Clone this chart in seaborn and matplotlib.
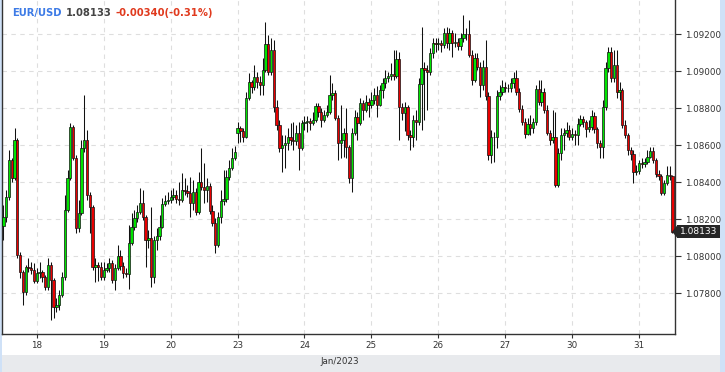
import numpy as np
import pandas as pd
import matplotlib
matplotlib.use("Agg")
import matplotlib.pyplot as plt
import seaborn as sns
from matplotlib.patches import Rectangle, Polygon

# ---------------- data (EUR/USD hourly candles, 17-31 Jan 2023) ----------------
day_labels = ["18", "19", "20", "23", "24", "25", "26", "27", "30", "31"]
day_start_index = [12, 36, 60, 84, 108, 132, 156, 180, 204, 228]
axis_caption = "Jan/2023"
symbol = "EUR/USD"
last_price = 1.08133
change_text = "-0.00340(-0.31%)"
price_ticks = [1.078, 1.080, 1.082, 1.084, 1.086, 1.088, 1.090, 1.092]

first_open = 1.08164
gap_opens = {84: 1.08666}

closes = [
    1.08212, 1.08320, 1.08520, 1.08423, 1.08628, 1.08007, 1.07915, 1.07807, 1.07942, 1.07937,
    1.07926, 1.07867, 1.07910, 1.07915, 1.07888, 1.07834, 1.07953, 1.07872, 1.07726, 1.07737,
    1.07791, 1.07888, 1.08250, 1.08423, 1.08698, 1.08531, 1.08153, 1.08234, 1.08585, 1.08628,
    1.08331, 1.08266, 1.07942, 1.07953, 1.07942, 1.07888, 1.07926, 1.07937, 1.07964, 1.07872,
    1.07937, 1.08002, 1.07948, 1.07910, 1.07904, 1.08072, 1.08158, 1.08207, 1.08239, 1.08288,
    1.08212, 1.08088, 1.08099, 1.07888, 1.08088, 1.08110, 1.08158, 1.08282, 1.08298, 1.08304,
    1.08320, 1.08331, 1.08309, 1.08304, 1.08358, 1.08353, 1.08342, 1.08288, 1.08347, 1.08239,
    1.08401, 1.08374, 1.08358, 1.08380, 1.08245, 1.08180, 1.08061, 1.08212, 1.08298, 1.08309,
    1.08428, 1.08477, 1.08531, 1.08563, 1.08693, 1.08677, 1.08644, 1.08855, 1.08941, 1.08914,
    1.08968, 1.08941, 1.08925, 1.09006, 1.09146, 1.08995, 1.09114, 1.08806, 1.08709, 1.08585,
    1.08601, 1.08612, 1.08644, 1.08628, 1.08623, 1.08666, 1.08585, 1.08720, 1.08725, 1.08731,
    1.08720, 1.08736, 1.08812, 1.08779, 1.08736, 1.08763, 1.08779, 1.08871, 1.08882, 1.08747,
    1.08612, 1.08628, 1.08666, 1.08590, 1.08423, 1.08666, 1.08752, 1.08720, 1.08828, 1.08790,
    1.08833, 1.08817, 1.08844, 1.08871, 1.08817, 1.08898, 1.08936, 1.08963, 1.08974, 1.08984,
    1.08974, 1.09065, 1.08806, 1.08774, 1.08806, 1.08655, 1.08644, 1.08736, 1.08725, 1.08930,
    1.09017, 1.09006, 1.08995, 1.09098, 1.09152, 1.09146, 1.09152, 1.09141, 1.09206, 1.09152,
    1.09206, 1.09152, 1.09157, 1.09136, 1.09179, 1.09200, 1.09198, 1.09087, 1.08952, 1.09071,
    1.09022, 1.08925, 1.09022, 1.08866, 1.08547, 1.08644, 1.08642, 1.08866, 1.08887, 1.08914,
    1.08909, 1.08907, 1.08936, 1.08963, 1.08887, 1.08795, 1.08725, 1.08660, 1.08714, 1.08693,
    1.08725, 1.08903, 1.08833, 1.08887, 1.08790, 1.08666, 1.08628, 1.08644, 1.08385, 1.08558,
    1.08655, 1.08666, 1.08682, 1.08644, 1.08660, 1.08655, 1.08714, 1.08741, 1.08725, 1.08688,
    1.08698, 1.08758, 1.08688, 1.08612, 1.08590, 1.08806, 1.09017, 1.09103, 1.08963, 1.09033,
    1.08887, 1.08898, 1.08709, 1.08655, 1.08574, 1.08552, 1.08455, 1.08461, 1.08504, 1.08498,
    1.08509, 1.08536, 1.08568, 1.08520, 1.08444, 1.08434, 1.08342, 1.08396, 1.08439, 1.08434,
    1.08133,
]

highs = [
    1.08277, 1.08358, 1.08574, 1.08531, 1.08693, 1.08639, 1.08023, 1.07926, 1.07953, 1.07991,
    1.07969, 1.07964, 1.07937, 1.07969, 1.07926, 1.07899, 1.07991, 1.07969, 1.07883, 1.07775,
    1.07818, 1.07915, 1.08331, 1.08466, 1.08720, 1.08709, 1.08547, 1.08304, 1.08628, 1.08871,
    1.08682, 1.08347, 1.08277, 1.07991, 1.07969, 1.07969, 1.07969, 1.07964, 1.07991, 1.07980,
    1.07958, 1.08061, 1.08034, 1.07969, 1.07937, 1.08169, 1.08234, 1.08250, 1.08277, 1.08369,
    1.08358, 1.08223, 1.08142, 1.08266, 1.08110, 1.08153, 1.08223, 1.08315, 1.08331, 1.08347,
    1.08358, 1.08369, 1.08358, 1.08401, 1.08450, 1.08422, 1.08385, 1.08428, 1.08412, 1.08369,
    1.08455, 1.08585, 1.08504, 1.08422, 1.08396, 1.08277, 1.08207, 1.08239, 1.08358, 1.08466,
    1.08466, 1.08520, 1.08585, 1.08596, 1.08725, 1.08704, 1.08693, 1.08887, 1.08990, 1.08952,
    1.09033, 1.08995, 1.08974, 1.09071, 1.09265, 1.09195, 1.09179, 1.09168, 1.08844, 1.08736,
    1.08655, 1.08655, 1.08693, 1.08720, 1.08725, 1.08709, 1.08725, 1.08736, 1.08758, 1.08758,
    1.08747, 1.08779, 1.08828, 1.08828, 1.08801, 1.08790, 1.08817, 1.08979, 1.08936, 1.08898,
    1.08763, 1.08817, 1.08693, 1.08801, 1.08601, 1.08693, 1.08790, 1.08779, 1.08855, 1.08844,
    1.08871, 1.08855, 1.08887, 1.08909, 1.08920, 1.08925, 1.08963, 1.09006, 1.08995, 1.09044,
    1.09114, 1.09114, 1.09103, 1.08828, 1.08833, 1.08817, 1.08682, 1.08763, 1.08790, 1.08963,
    1.09238, 1.09049, 1.09033, 1.09125, 1.09179, 1.09179, 1.09179, 1.09168, 1.09233, 1.09238,
    1.09233, 1.09222, 1.09206, 1.09179, 1.09206, 1.09303, 1.09233, 1.09276, 1.09114, 1.09098,
    1.09098, 1.09049, 1.09060, 1.09168, 1.08887, 1.08682, 1.08671, 1.08898, 1.08925, 1.08952,
    1.08941, 1.08930, 1.08963, 1.08995, 1.09006, 1.08909, 1.08817, 1.08747, 1.08747, 1.08763,
    1.08747, 1.08925, 1.08952, 1.08952, 1.08909, 1.08817, 1.08682, 1.08790, 1.08779, 1.08585,
    1.08693, 1.08693, 1.08725, 1.08709, 1.08693, 1.08682, 1.08747, 1.08763, 1.08758, 1.08736,
    1.08736, 1.08790, 1.08779, 1.08698, 1.08628, 1.08844, 1.09049, 1.09130, 1.09130, 1.09114,
    1.09114, 1.08941, 1.08909, 1.08736, 1.08666, 1.08590, 1.08574, 1.08493, 1.08520, 1.08531,
    1.08531, 1.08574, 1.08590, 1.08590, 1.08531, 1.08466, 1.08444, 1.08412, 1.08488, 1.08488,
    1.08439,
]

lows = [
    1.08088, 1.08185, 1.08304, 1.08401, 1.08412, 1.07991, 1.07883, 1.07737, 1.07791, 1.07915,
    1.07904, 1.07856, 1.07856, 1.07883, 1.07861, 1.07818, 1.07818, 1.07656, 1.07667, 1.07699,
    1.07710, 1.07780, 1.07872, 1.08239, 1.08412, 1.08520, 1.08126, 1.08131, 1.08223, 1.08563,
    1.08304, 1.08126, 1.07926, 1.07861, 1.07867, 1.07872, 1.07872, 1.07915, 1.07915, 1.07856,
    1.07818, 1.07926, 1.07926, 1.07883, 1.07888, 1.07823, 1.08061, 1.08142, 1.08185, 1.08228,
    1.08196, 1.07942, 1.08045, 1.07834, 1.07856, 1.08034, 1.08088, 1.08153, 1.08271, 1.08282,
    1.08288, 1.08304, 1.08288, 1.08277, 1.08293, 1.08331, 1.08320, 1.08212, 1.08250, 1.08223,
    1.08228, 1.08358, 1.08288, 1.08293, 1.08228, 1.08164, 1.08018, 1.08050, 1.08180, 1.08277,
    1.08293, 1.08412, 1.08466, 1.08520, 1.08612, 1.08617, 1.08617, 1.08639, 1.08844, 1.08882,
    1.08898, 1.08909, 1.08871, 1.08871, 1.08995, 1.08979, 1.08979, 1.08779, 1.08682, 1.08563,
    1.08455, 1.08477, 1.08574, 1.08601, 1.08574, 1.08601, 1.08466, 1.08574, 1.08682, 1.08671,
    1.08682, 1.08709, 1.08725, 1.08752, 1.08698, 1.08725, 1.08752, 1.08768, 1.08844, 1.08736,
    1.08520, 1.08531, 1.08536, 1.08531, 1.08396, 1.08347, 1.08655, 1.08628, 1.08709, 1.08736,
    1.08779, 1.08752, 1.08801, 1.08822, 1.08752, 1.08812, 1.08855, 1.08909, 1.08941, 1.08952,
    1.08952, 1.08963, 1.08628, 1.08736, 1.08677, 1.08628, 1.08574, 1.08590, 1.08628, 1.08709,
    1.08682, 1.08736, 1.08790, 1.08979, 1.09071, 1.09103, 1.09114, 1.09103, 1.09125, 1.09125,
    1.09114, 1.09076, 1.09130, 1.09114, 1.09114, 1.09157, 1.09168, 1.09076, 1.08925, 1.08941,
    1.09006, 1.08860, 1.08898, 1.08844, 1.08520, 1.08504, 1.08509, 1.08585, 1.08844, 1.08871,
    1.08887, 1.08887, 1.08887, 1.08909, 1.08871, 1.08779, 1.08709, 1.08639, 1.08655, 1.08655,
    1.08666, 1.08709, 1.08817, 1.08812, 1.08774, 1.08655, 1.08601, 1.08612, 1.08374, 1.08374,
    1.08520, 1.08574, 1.08644, 1.08628, 1.08628, 1.08601, 1.08601, 1.08704, 1.08698, 1.08644,
    1.08671, 1.08682, 1.08666, 1.08585, 1.08531, 1.08531, 1.08790, 1.08995, 1.08941, 1.08941,
    1.08855, 1.08844, 1.08693, 1.08639, 1.08547, 1.08520, 1.08396, 1.08439, 1.08444, 1.08477,
    1.08482, 1.08498, 1.08531, 1.08504, 1.08428, 1.08412, 1.08331, 1.08331, 1.08385, 1.08412,
    1.08126,
]

# ---------------- build the OHLC table ----------------
n = len(closes)
opens = [first_open] + closes[:-1]
for k, v in gap_opens.items():
    opens[k] = v
df = pd.DataFrame({"i": np.arange(n), "open": opens, "close": closes,
                   "high": highs, "low": lows})
df["high"] = df[["high", "open", "close"]].max(axis=1)
df["low"] = df[["low", "open", "close"]].min(axis=1)
df["up"] = df["close"] >= df["open"]
df["bottom"] = df[["open", "close"]].min(axis=1)
df["height"] = (df["close"] - df["open"]).abs().clip(lower=0.000015)

# ---------------- styling ----------------
sns.set_theme(style="white")
plt.rcParams["font.family"] = ["DejaVu Sans"]

W, H = 725, 372
fig = plt.figure(figsize=(W / 100, H / 100), dpi=100)
fig.patch.set_facecolor("white")

# frame decorations (bottom caption strip, side strips)
fig.add_artist(Rectangle((0, 0), 1, 17 / H, transform=fig.transFigure,
                         facecolor="#e8eaed", edgecolor="none", zorder=0))
fig.add_artist(Rectangle((720 / W, 0), 5 / W, 1, transform=fig.transFigure,
                         facecolor="#cfe1f7", edgecolor="none", zorder=0))
fig.add_artist(Rectangle((0, 0), 1.5 / W, 1, transform=fig.transFigure,
                         facecolor="#cfe1f7", edgecolor="none", zorder=0))

ax = fig.add_axes([2 / W, (H - 334) / H, (675 - 2) / W, 334 / H])
ax.set_facecolor("white")

GREEN = "#00e400"
RED = "#e80000"

# wicks
ax.vlines(df["i"], df["low"], df["high"], color="#111111", lw=0.75, zorder=2)
# bodies
ax.bar(df["i"], df["height"], bottom=df["bottom"], width=0.82,
       color=np.where(df["up"], GREEN, RED), edgecolor="#111111",
       linewidth=0.5, zorder=3)

ax.set_xlim(-0.5, 240.9)
ax.set_ylim(1.07580, 1.09384)

# grid
ax.set_yticks(price_ticks)
ax.set_xticks(day_start_index)
ax.grid(True, color="#dedede", linestyle=(0, (4, 4)), lw=0.8, zorder=0)

# ticks & labels
ax.yaxis.tick_right()
ax.set_yticklabels([f"{t:.5f}" for t in price_ticks])
ax.set_xticklabels(day_labels)
ax.tick_params(axis="y", which="both", right=True, left=False, length=4,
               width=0.8, color="#333333", labelsize=6.3, labelcolor="#333333", pad=3)
ax.tick_params(axis="x", which="both", bottom=True, length=3, width=0.8,
               color="#333333", labelsize=6.3, labelcolor="#333333", pad=2)

for side in ["left", "bottom", "right"]:
    ax.spines[side].set_visible(True)
    ax.spines[side].set_color("#333333")
    ax.spines[side].set_linewidth(1.0)
ax.spines["top"].set_visible(False)

fig.text(340 / W, 1 - 362 / H, axis_caption, ha="center", va="center",
         fontsize=6.3, color="#333333")

# title with coloured parts
fig.canvas.draw()
renderer = fig.canvas.get_renderer()
x0 = 12 / W
y0 = 1 - 13 / H
parts = [(symbol, "#3d7be6"), (f"{last_price:.5f}", "#444444"), (change_text, "#e03a1e")]
for txt, col in parts:
    t = fig.text(x0, y0, txt, ha="left", va="center", fontsize=7.2,
                 fontweight="bold", color=col)
    bb = t.get_window_extent(renderer=renderer)
    x0 = (bb.x1 + 4) / W

# last price marker on the right axis
ydisp = ax.transData.transform((0, last_price))[1]
yf = ydisp / H
hb = 6.5 / H
fig.add_artist(Rectangle((677 / W, yf - hb), (720 - 677) / W, 2 * hb,
                         transform=fig.transFigure, facecolor="#262626",
                         edgecolor="none", zorder=5))
fig.add_artist(Polygon([(672 / W, yf), (677.5 / W, yf + hb), (677.5 / W, yf - hb)],
                       closed=True, transform=fig.transFigure,
                       facecolor="#262626", edgecolor="none", zorder=5))
fig.text(698.5 / W, yf, f"{last_price:.5f}", ha="center", va="center",
         fontsize=6.5, color="white", zorder=6)

fig.savefig("out.png", dpi=100)
